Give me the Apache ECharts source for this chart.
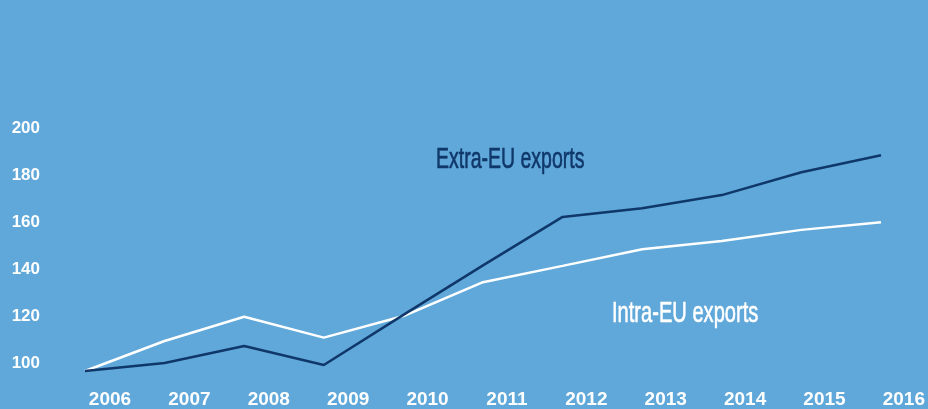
<!DOCTYPE html>
<html>
<head>
<meta charset="utf-8">
<script src="https://cdn.jsdelivr.net/npm/echarts@6/dist/echarts.min.js"></script>
<style>
  html, body { margin: 0; padding: 0; background: #5fa8d9; }
  #chart { width: 928px; height: 409px; }
</style>
</head>
<body>
<div id="chart"></div>
<script>
// Export index, 2006–2016
const years = ['2006', '2007', '2008', '2009', '2010', '2011', '2012', '2013', '2014', '2015', '2016'];
const extraEU = [97.5, 100.8, 107.9, 100.0, 120.9, 141.5, 161.7, 165.3, 170.8, 180.3, 187.4];
const intraEU = [97.5, 110.0, 120.1, 111.4, 120.4, 134.5, 141.3, 148.2, 151.7, 156.3, 159.5];
const yTicks = [100, 120, 140, 160, 180, 200];

const BG = '#5fa8d9';
const NAVY = '#10376a';
const tickFont = { color: '#ffffff', fontFamily: 'Liberation Sans', fontWeight: 'bold' };

const chart = echarts.init(document.getElementById('chart'), null, { renderer: 'canvas' });

chart.setOption({
  backgroundColor: BG,
  animation: false,
  grid: [
    // plotting area for the two lines
    { left: 85, right: 47, top: 125, bottom: 32 },
    // label frame: years sit to the right of their points, values slightly lower
    { left: 110, right: 22, top: 128, bottom: 32 }
  ],
  xAxis: [
    {
      type: 'category', gridIndex: 0, data: years, boundaryGap: false,
      axisLine: { show: false }, axisTick: { show: false }, axisLabel: { show: false },
      splitLine: { show: false }
    },
    {
      type: 'category', gridIndex: 1, data: years, boundaryGap: false,
      axisLine: { show: false }, axisTick: { show: false }, splitLine: { show: false },
      axisLabel: Object.assign({ margin: 15, interval: 0, fontSize: 19 }, tickFont)
    }
  ],
  yAxis: [
    {
      type: 'value', gridIndex: 0, min: 95, max: 200,
      axisLine: { show: false }, axisTick: { show: false }, splitLine: { show: false },
      axisLabel: { show: false }
    },
    {
      type: 'value', gridIndex: 1, min: 95, max: 200,
      axisLine: { show: false }, axisTick: { show: false }, splitLine: { show: false },
      axisLabel: Object.assign({ margin: 70, customValues: yTicks, fontSize: 17 }, tickFont)
    }
  ],
  series: [
    {
      name: 'Intra-EU exports', type: 'line', xAxisIndex: 0, yAxisIndex: 0,
      data: intraEU, showSymbol: false, symbol: 'none',
      lineStyle: { color: '#ffffff', width: 2.5 }
    },
    {
      name: 'Extra-EU exports', type: 'line', xAxisIndex: 0, yAxisIndex: 0,
      data: extraEU, showSymbol: false, symbol: 'none',
      lineStyle: { color: NAVY, width: 2.5 }
    }
  ],
  graphic: [
    {
      type: 'text', x: 436, y: 160, scaleX: 0.65,
      style: {
        text: 'Extra-EU exports', fill: NAVY, stroke: NAVY, lineWidth: 0.6,
        font: '30px "Liberation Sans"', textAlign: 'left', textVerticalAlign: 'middle'
      }
    },
    {
      type: 'text', x: 612, y: 314, scaleX: 0.67,
      style: {
        text: 'Intra-EU exports', fill: '#ffffff', stroke: '#ffffff', lineWidth: 0.6,
        font: '30px "Liberation Sans"', textAlign: 'left', textVerticalAlign: 'middle'
      }
    }
  ]
});
</script>
</body>
</html>
